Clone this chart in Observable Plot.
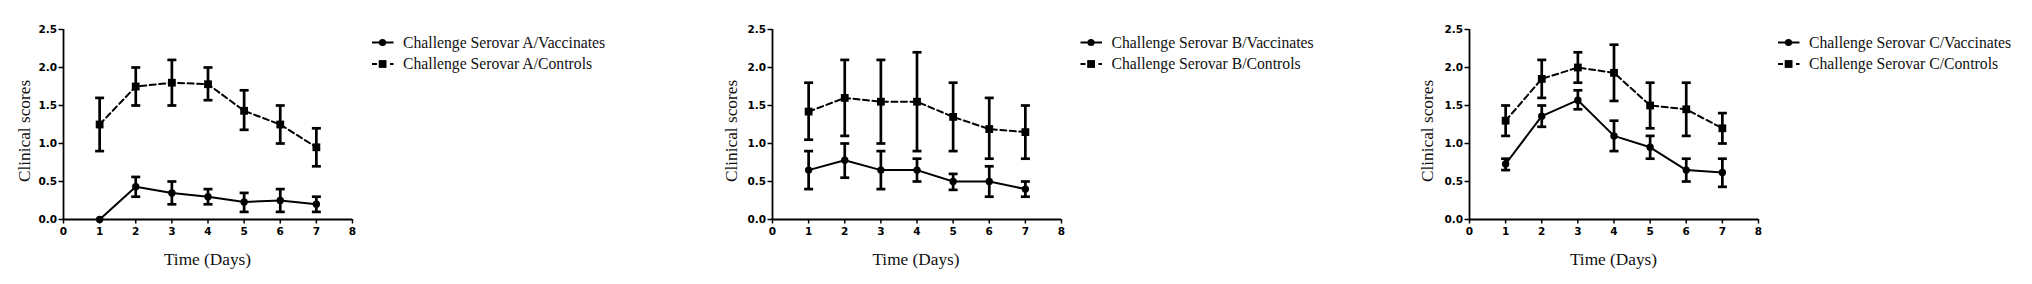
<!DOCTYPE html>
<html>
<head>
<meta charset="utf-8">
<script src="https://cdn.jsdelivr.net/npm/d3@7"></script>
<script src="https://cdn.jsdelivr.net/npm/@observablehq/plot@0.6"></script>
<style>
  html, body { margin: 0; padding: 0; background: #fff; }
  #root { position: relative; width: 2032px; height: 284px; overflow: hidden; background: #fff; }
  .panel { position: absolute; top: 0; }
  #overlay { position: absolute; left: 0; top: 0; pointer-events: none; }
</style>
</head>
<body>
<div id="root"></div>
<script>
// ---- data ----
const days = [1, 2, 3, 4, 5, 6, 7];
const xTicks = [0, 1, 2, 3, 4, 5, 6, 7, 8];
const yTicks = [0, 0.5, 1.0, 1.5, 2.0, 2.5];
const serovars = ["A", "B", "C"];

const vaccA_mean = [0.00, 0.43, 0.35, 0.30, 0.23, 0.25, 0.20];
const vaccA_lo   = [0.00, 0.30, 0.20, 0.20, 0.10, 0.10, 0.10];
const vaccA_hi   = [0.00, 0.56, 0.50, 0.40, 0.35, 0.40, 0.30];
const ctrlA_mean = [1.25, 1.75, 1.80, 1.78, 1.43, 1.25, 0.95];
const ctrlA_lo   = [0.90, 1.50, 1.50, 1.57, 1.18, 1.00, 0.70];
const ctrlA_hi   = [1.60, 2.00, 2.10, 2.00, 1.70, 1.50, 1.20];

const vaccB_mean = [0.65, 0.78, 0.65, 0.65, 0.50, 0.50, 0.40];
const vaccB_lo   = [0.40, 0.55, 0.40, 0.50, 0.39, 0.30, 0.30];
const vaccB_hi   = [0.90, 1.00, 0.90, 0.80, 0.60, 0.70, 0.50];
const ctrlB_mean = [1.42, 1.60, 1.55, 1.55, 1.35, 1.19, 1.15];
const ctrlB_lo   = [1.05, 1.10, 1.00, 0.90, 0.90, 0.80, 0.80];
const ctrlB_hi   = [1.80, 2.10, 2.10, 2.20, 1.80, 1.60, 1.50];

const vaccC_mean = [0.73, 1.36, 1.57, 1.10, 0.95, 0.65, 0.62];
const vaccC_lo   = [0.65, 1.22, 1.45, 0.90, 0.80, 0.50, 0.43];
const vaccC_hi   = [0.80, 1.50, 1.70, 1.30, 1.10, 0.80, 0.80];
const ctrlC_mean = [1.30, 1.85, 2.00, 1.93, 1.50, 1.45, 1.20];
const ctrlC_lo   = [1.10, 1.60, 1.80, 1.56, 1.20, 1.10, 1.00];
const ctrlC_hi   = [1.50, 2.10, 2.20, 2.30, 1.80, 1.80, 1.40];

const xLabel = "Time (Days)";
const yLabel = "Clinical scores";
const legendVacc = s => `Challenge Serovar ${s}/Vaccinates`;
const legendCtrl = s => `Challenge Serovar ${s}/Controls`;

// ---- layout ----
const layout = [
  {axisX: 63,  yTitleOff: -33},
  {axisX: 771.5, yTitleOff: -35},
  {axisX: 1469, yTitleOff: -36.5}
];
const ML = 63, MT = 29, MB = 65, AXW = 289, PW = 360;

const series = {
  A: [[vaccA_mean, vaccA_lo, vaccA_hi], [ctrlA_mean, ctrlA_lo, ctrlA_hi]],
  B: [[vaccB_mean, vaccB_lo, vaccB_hi], [ctrlB_mean, ctrlB_lo, ctrlB_hi]],
  C: [[vaccC_mean, vaccC_lo, vaccC_hi], [ctrlC_mean, ctrlC_lo, ctrlC_hi]]
};

const capSymbol = {
  draw(ctx, size) {
    const w = Math.sqrt(size / Math.PI);
    ctx.moveTo(-w, 0);
    ctx.lineTo(w, 0);
  }
};

function rows(triple) {
  const [m, lo, hi] = triple;
  return days.map((d, i) => ({day: d, mean: m[i], lo: lo[i], hi: hi[i]}));
}

const root = document.getElementById("root");

serovars.forEach((s, k) => {
  const vacc = rows(series[s][0]);
  const ctrl = rows(series[s][1]);
  const withErr = arr => arr.filter(d => d.hi > d.lo);
  const errMarks = arr => [
    Plot.ruleX(withErr(arr), {x: "day", y1: "lo", y2: "hi", stroke: "#000", strokeWidth: 2.7}),
    Plot.dot(withErr(arr), {x: "day", y: "hi", symbol: capSymbol, r: 4.5, stroke: "#000", fill: "none", strokeWidth: 2.7}),
    Plot.dot(withErr(arr), {x: "day", y: "lo", symbol: capSymbol, r: 4.5, stroke: "#000", fill: "none", strokeWidth: 2.7})
  ];
  const chart = Plot.plot({
    width: PW,
    height: 284,
    marginLeft: ML,
    marginRight: PW - ML - AXW,
    marginTop: MT,
    marginBottom: MB,
    x: {domain: [0, 8]},
    y: {domain: [0, 2.5]},
    style: {fontFamily: "'DejaVu Sans', sans-serif", fontWeight: "bold", fontSize: "10.5px", color: "#000", background: "transparent", overflow: "visible"},
    marks: [
      Plot.axisX({ticks: xTicks, tickFormat: d3.format("d"), tickSize: 4.5, tickPadding: 4, strokeWidth: 1.5, label: null}),
      Plot.axisY({ticks: yTicks, tickFormat: d3.format(".1f"), tickSize: 4.5, tickPadding: 2, strokeWidth: 1.5, label: null}),
      Plot.ruleX([0], {stroke: "#000", strokeWidth: 1.8}),
      Plot.ruleY([0], {stroke: "#000", strokeWidth: 1.8}),
      ...errMarks(ctrl),
      ...errMarks(vacc),
      Plot.line(ctrl, {x: "day", y: "mean", stroke: "#000", strokeWidth: 2, strokeDasharray: "6,3.5"}),
      Plot.line(vacc, {x: "day", y: "mean", stroke: "#000", strokeWidth: 2}),
      Plot.dot(ctrl, {x: "day", y: "mean", symbol: "square", r: 4.4, fill: "#000", stroke: "none"}),
      Plot.dot(vacc, {x: "day", y: "mean", symbol: "circle", r: 3.7, fill: "#000", stroke: "none"})
    ]
  });
  const div = document.createElement("div");
  div.className = "panel";
  div.style.left = (layout[k].axisX - ML) + "px";
  div.appendChild(chart);
  root.appendChild(div);
});

// ---- overlay: axis titles and legends ----
const svgNS = "http://www.w3.org/2000/svg";
const overlay = document.createElementNS(svgNS, "svg");
overlay.setAttribute("id", "overlay");
overlay.setAttribute("width", 2032);
overlay.setAttribute("height", 284);
root.appendChild(overlay);

function el(tag, attrs, text) {
  const e = document.createElementNS(svgNS, tag);
  for (const k in attrs) e.setAttribute(k, attrs[k]);
  if (text != null) e.textContent = text;
  overlay.appendChild(e);
  return e;
}

serovars.forEach((s, k) => {
  const ax = layout[k].axisX;
  // x title
  el("text", {x: ax + AXW / 2, y: 265, "text-anchor": "middle", "font-family": "'Liberation Serif', 'Times New Roman', serif", "font-size": "17.3px", fill: "#111"}, xLabel);
  // y title
  const tx = ax + layout[k].yTitleOff, ty = 131;
  el("text", {x: 0, y: 0, transform: `translate(${tx},${ty}) rotate(-90)`, "text-anchor": "middle", "font-family": "'Liberation Serif', 'Times New Roman', serif", "font-size": "17.3px", fill: "#111"}, yLabel);
  // legend
  const lx = ax + 309;
  const r1 = 42.5, r2 = 64;
  el("line", {x1: lx, x2: lx + 21.5, y1: r1, y2: r1, stroke: "#000", "stroke-width": 2});
  el("circle", {cx: lx + 10.5, cy: r1, r: 3.6, fill: "#000"});
  el("line", {x1: lx, x2: lx + 5, y1: r2, y2: r2, stroke: "#000", "stroke-width": 2});
  el("rect", {x: lx + 6.7, y: r2 - 3.9, width: 7.8, height: 7.8, fill: "#000"});
  el("line", {x1: lx + 18, x2: lx + 21.5, y1: r2, y2: r2, stroke: "#000", "stroke-width": 2});
  el("text", {x: lx + 31, y: r1 + 5.3, "font-family": "'Liberation Serif', 'Times New Roman', serif", "font-size": "15.7px", fill: "#111"}, legendVacc(s));
  el("text", {x: lx + 31, y: r2 + 5.3, "font-family": "'Liberation Serif', 'Times New Roman', serif", "font-size": "15.7px", fill: "#111"}, legendCtrl(s));
});
</script>
</body>
</html>
